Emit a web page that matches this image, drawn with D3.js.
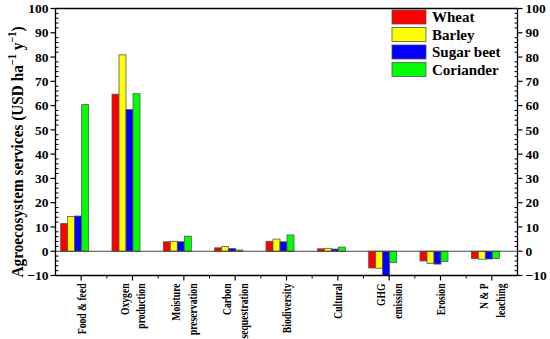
<!DOCTYPE html>
<html><head><meta charset="utf-8">
<script src="https://cdn.jsdelivr.net/npm/d3@7"></script>
<style>body{margin:0;background:#fff}svg{display:block}text{font-family:"Liberation Serif","Times New Roman",serif;font-weight:bold}</style>
</head><body><svg id="c" width="550" height="339"></svg>
<script>
const categories = [["Food & feed"],["Oxygen","production"],["Moisture","preservation"],["Carbon","sequestration"],["Biodiversity"],["Cultural"],["GHG","emission"],["Erosion"],["N & P","leaching"]];
const seriesNames = ["Wheat","Barley","Sugar beet","Coriander"];
const seriesColors = ["#ff0000","#ffff00","#0000ff","#00ff00"];
const wheat     = [11.4, 64.7, 3.9, 1.4, 4.1, 1.0, -6.9, -4.0, -3.0];
const barley    = [14.3, 80.9, 4.1, 1.9, 5.0, 1.2, -7.0, -5.0, -3.3];
const sugarBeet = [14.5, 58.4, 3.9, 1.1, 3.9, 0.9, -10.0, -5.3, -3.2];
const coriander = [60.4, 64.9, 6.2, 0.5, 6.7, 1.7, -4.7, -4.2, -3.0];
const yTicks = [-10,0,10,20,30,40,50,60,70,80,90,100];
const values = [wheat, barley, sugarBeet, coriander];

const svg = d3.select("#c");
const L=55.5, R=517.5, T=8.5, B=275.5;
const x = d3.scaleBand().domain(d3.range(categories.length)).range([L,R]);
const y = d3.scaleLinear().domain([-10,100]).range([B,T]);
const bw = 7;

// bars
values.forEach((vals,si)=>{
  svg.append("g").selectAll("rect").data(vals).join("rect")
    .attr("x",(d,i)=>x(i)+x.bandwidth()/2-20.5+si*bw)
    .attr("y",d=>y(Math.max(0,d)))
    .attr("width",bw)
    .attr("height",d=>Math.abs(y(d)-y(0)))
    .attr("fill",seriesColors[si])
    .attr("stroke","#555").attr("stroke-width",0.8);
});
// zero line
svg.append("line").attr("x1",L).attr("x2",R).attr("y1",y(0)).attr("y2",y(0)).attr("stroke","#444").attr("stroke-width",1.2);

const minor = d3.range(-10,100.01,2).filter(v=>v%10!==0);
// left axis
const gl = svg.append("g").attr("transform",`translate(${L},0)`);
gl.append("line").attr("y1",T).attr("y2",B).attr("stroke","#000").attr("stroke-width",1.3);
gl.selectAll(".mj").data(yTicks).join("line").attr("x1",-5).attr("x2",0).attr("y1",d=>y(d)).attr("y2",d=>y(d)).attr("stroke","#000").attr("stroke-width",1.2);
gl.selectAll(".mn").data(minor).join("line").attr("class","mn").attr("x1",0).attr("x2",3).attr("y1",d=>y(d)).attr("y2",d=>y(d)).attr("stroke","#000");
gl.selectAll("text").data(yTicks).join("text").attr("x",-7).attr("y",d=>y(d)).attr("dy","0.35em").attr("text-anchor","end").attr("font-size",13.5).text(d=>d<0?"\u2212"+Math.abs(d):d);
// right axis
const gr = svg.append("g").attr("transform",`translate(${R},0)`);
gr.append("line").attr("y1",T).attr("y2",B).attr("stroke","#000").attr("stroke-width",1.3);
gr.selectAll(".mj").data(yTicks).join("line").attr("x1",0).attr("x2",5).attr("y1",d=>y(d)).attr("y2",d=>y(d)).attr("stroke","#000").attr("stroke-width",1.2);
gr.selectAll(".mn").data(minor).join("line").attr("class","mn").attr("x1",-3).attr("x2",0).attr("y1",d=>y(d)).attr("y2",d=>y(d)).attr("stroke","#000");
gr.selectAll("text").data(yTicks).join("text").attr("x",8).attr("y",d=>y(d)).attr("dy","0.35em").attr("text-anchor","start").attr("font-size",13.5).text(d=>d<0?"\u2212"+Math.abs(d):d);
// top line
svg.append("line").attr("x1",L).attr("x2",R).attr("y1",T).attr("y2",T).attr("stroke","#000").attr("stroke-width",1.3);
// bottom axis
const gb = svg.append("g");
gb.append("line").attr("x1",L).attr("x2",R).attr("y1",B).attr("y2",B).attr("stroke","#000").attr("stroke-width",1.3);
gb.selectAll(".mj").data(categories).join("line").attr("x1",(d,i)=>x(i)+x.bandwidth()/2).attr("x2",(d,i)=>x(i)+x.bandwidth()/2).attr("y1",B).attr("y2",B+5).attr("stroke","#000").attr("stroke-width",1.2);
gb.selectAll(".mn").data(d3.range(1,categories.length)).join("line").attr("class","mn").attr("x1",i=>x(i)).attr("x2",i=>x(i)).attr("y1",B).attr("y2",B+3).attr("stroke","#000");
categories.forEach((lines,i)=>{
  const cx = x(i)+x.bandwidth()/2;
  const n = lines.length;
  lines.forEach((t,j)=>{
    const off = (j-(n-1)/2)*16.7;
    svg.append("text").attr("transform",`translate(${cx+off+4.5},${B+8}) rotate(-90) scale(0.74,1)`).attr("text-anchor","end").attr("font-size",13).text(t);
  });
});
// y title
const yt = svg.append("text").attr("transform","translate(23,152) rotate(-90) scale(0.9,1)").attr("text-anchor","middle").attr("font-size",17);
yt.append("tspan").text("Agroecosystem services (USD ha");
yt.append("tspan").attr("font-size",11.5).attr("dy",-7.5).text("\u22121");
yt.append("tspan").attr("dy",7.5).text(" y");
yt.append("tspan").attr("font-size",11.5).attr("dy",-7.5).text("\u22121");
yt.append("tspan").attr("dy",7.5).text(")");
// legend
const lg = svg.append("g").attr("transform","translate(392,10)");
seriesNames.forEach((n,i)=>{
  lg.append("rect").attr("x",0).attr("y",i*17.5).attr("width",34).attr("height",14).attr("fill",seriesColors[i]).attr("stroke","#555").attr("stroke-width",0.8);
  lg.append("text").attr("x",40).attr("y",i*17.5+12).attr("font-size",15).text(n);
});
</script></body></html>
